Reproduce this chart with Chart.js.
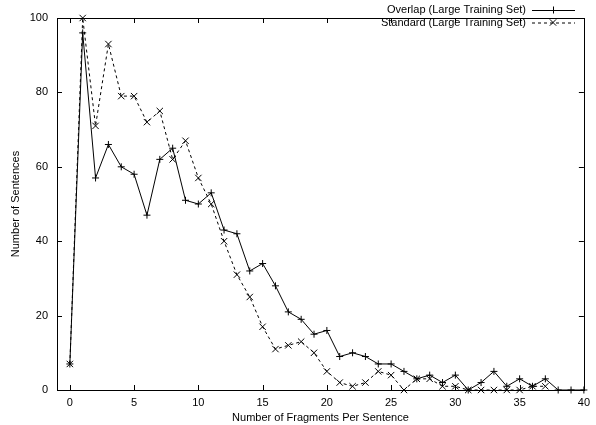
<!DOCTYPE html>
<html><head><meta charset="utf-8">
<script src="https://cdn.jsdelivr.net/npm/chart.js@4.4.1/dist/chart.umd.min.js"></script>
<style>html,body{margin:0;padding:0;background:#fff}#wrap{width:596px;height:425px}</style>
</head><body><div id="wrap"><canvas id="c" width="596" height="425"></canvas></div>
<script>
const fragments = [0,1,2,3,4,5,6,7,8,9,10,11,12,13,14,15,16,17,18,19,20,21,22,23,24,25,26,27,28,29,30,31,32,33,34,35,36,37,38,39,40];
const overlap = [7,96,57,66,60,58,47,62,65,51,50,53,43,42,32,34,28,21,19,15,16,9,10,9,7,7,5,3,4,2,4,0,2,5,1,3,1,3,0,0,0];
const standard = [7,100,71,93,79,79,72,75,62,67,57,50,40,31,25,17,11,12,13,10,5,2,1,2,5,4,0,3,3,1,1,0,0,0,0,0,1,1];
const xTicks = [0,5,10,15,20,25,30,35,40];
const yTicks = [0,20,40,60,80,100];
const seriesNames = ['Overlap (Large Training Set)','Standard (Large Training Set)'];

const FONT = {family:'"Liberation Sans", Arial, sans-serif', size:11};
const pts = (arr) => arr.map((v,i)=>({x:fragments[i], y:v}));

const frame = {
  id:'frame',
  afterDraw(chart){
    const {ctx, chartArea:a, scales:{x,y}} = chart;
    ctx.save();
    ctx.strokeStyle='#000'; ctx.lineWidth=1;
    ctx.strokeRect(Math.round(a.left)+0.5, Math.round(a.top)+0.5, Math.round(a.right-a.left), Math.round(a.bottom-a.top));
    const L=5;
    ctx.beginPath();
    x.ticks.forEach(t=>{const px=Math.round(x.getPixelForValue(t.value))+0.5;
      ctx.moveTo(px,a.bottom); ctx.lineTo(px,a.bottom-L);
      ctx.moveTo(px,a.top); ctx.lineTo(px,a.top+L);});
    y.ticks.forEach(t=>{const py=Math.round(y.getPixelForValue(t.value))+0.5;
      ctx.moveTo(a.left,py); ctx.lineTo(a.left+L,py);
      ctx.moveTo(a.right,py); ctx.lineTo(a.right-L,py);});
    ctx.stroke();
    // legend
    ctx.font = FONT.size+'px '+FONT.family;
    ctx.fillStyle='#000'; ctx.textAlign='right'; ctx.textBaseline='middle';
    chart.data.datasets.forEach((ds,i)=>{
      const ly = 10 + i*12.5;
      ctx.fillText(ds.label, 526, ly);
      ctx.beginPath(); ctx.setLineDash(ds.borderDash||[]);
      ctx.moveTo(532, ly+0.5); ctx.lineTo(575, ly+0.5); ctx.stroke();
      ctx.setLineDash([]);
      const r = ds.pointRadius;
      ctx.beginPath();
      if(ds.pointStyle==='cross'){ctx.moveTo(553-r,ly+0.5);ctx.lineTo(553+r,ly+0.5);ctx.moveTo(553.5,ly-r);ctx.lineTo(553.5,ly+r);}
      else {const d=r*0.707;ctx.moveTo(553-d,ly-d);ctx.lineTo(553+d,ly+d);ctx.moveTo(553+d,ly-d);ctx.lineTo(553-d,ly+d);}
      ctx.stroke();
    });
    ctx.restore();
  }
};

new Chart(document.getElementById('c'), {
  type:'line',
  data:{datasets:[
    {label:seriesNames[0], data:pts(overlap), borderColor:'#000', backgroundColor:'#000', borderWidth:1,
     pointStyle:'cross', pointRadius:3.5, pointBorderWidth:1, pointBorderColor:'#000', tension:0, clip:false},
    {label:seriesNames[1], data:pts(standard), borderColor:'#000', backgroundColor:'#000', borderWidth:1, borderDash:[3,3],
     pointStyle:'crossRot', pointRadius:4.5, pointBorderWidth:1, pointBorderColor:'#000', tension:0, clip:false}
  ]},
  options:{
    responsive:false, animation:false, devicePixelRatio:1,
    layout:{padding:{top:18, right:6, left:0, bottom:0}},
    plugins:{legend:{display:false}, tooltip:{enabled:false}},
    scales:{
      x:{type:'linear', min:-1, max:40,
        afterBuildTicks:(s)=>{s.ticks = xTicks.map(v=>({value:v}));},
        afterFit:(s)=>{s.height=35;},
        grid:{display:false, drawTicks:false}, border:{display:false},
        ticks:{color:'#000', font:FONT, padding:6, maxRotation:0, autoSkip:false},
        title:{display:true, text:'Number of Fragments Per Sentence', color:'#000', font:FONT, padding:{top:2,bottom:0}}},
      y:{type:'linear', min:0, max:100,
        afterBuildTicks:(s)=>{s.ticks = yTicks.map(v=>({value:v}));},
        afterFit:(s)=>{s.width=57;},
        grid:{display:false, drawTicks:false}, border:{display:false},
        ticks:{color:'#000', font:FONT, padding:9, autoSkip:false},
        title:{display:true, text:'Number of Sentences', color:'#000', font:FONT, padding:{top:9,bottom:0}}}
    }
  },
  plugins:[frame]
});
</script></body></html>
